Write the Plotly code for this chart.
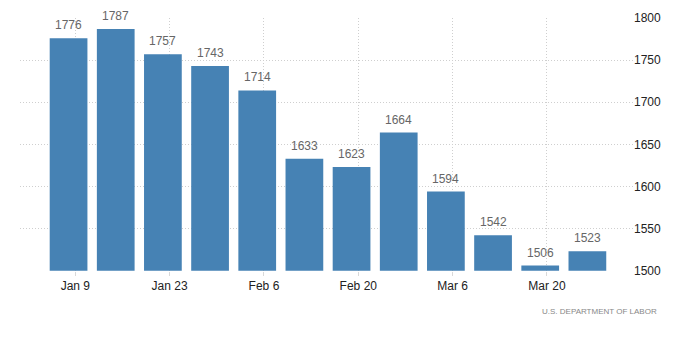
import plotly.graph_objects as go

dates = ["2019-01-08", "2019-01-15", "2019-01-22", "2019-01-29", "2019-02-05",
         "2019-02-12", "2019-02-19", "2019-02-26", "2019-03-05", "2019-03-12",
         "2019-03-19", "2019-03-26"]
values = [1776, 1787, 1757, 1743, 1714, 1633, 1623, 1664, 1594, 1542, 1506, 1523]
tick_dates = ["2019-01-09", "2019-01-23", "2019-02-06", "2019-02-20", "2019-03-06", "2019-03-20"]
tick_labels = ["Jan 9", "Jan 23", "Feb 6", "Feb 20", "Mar 6", "Mar 20"]
y_ticks = [1500, 1550, 1600, 1650, 1700, 1750, 1800]
source = "U.S. DEPARTMENT OF LABOR"

DAY = 86400000
fig = go.Figure(go.Bar(
    x=dates, y=[v - 1500 for v in values], base=1500,
    width=5.6 * DAY,
    marker=dict(color="#4682B4", line=dict(width=0)),
    cliponaxis=False,
))

label_annotations = [dict(
    x=d, y=v, xref="x", yref="y", text=str(v), showarrow=False,
    yanchor="bottom", yshift=4,
    font=dict(family="Liberation Sans, Arial", size=12, color="#666666"),
) for d, v in zip(dates, values)]

fig.update_layout(
    width=700, height=359,
    margin=dict(l=20, r=67, t=18, b=88),
    paper_bgcolor="white", plot_bgcolor="white",
    showlegend=False,
    font=dict(family="Liberation Sans, Arial", size=12, color="#333333"),
    xaxis=dict(
        type="date",
        range=["2018-12-31 19:00", "2019-04-01 18:30"],
        tickvals=tick_dates, ticktext=tick_labels,
        showgrid=True, gridcolor="#cfcfcf", griddash="1px,2px", gridwidth=1,
        ticks="outside", ticklen=4, tickcolor="#d9d9d9",
        showline=False, zeroline=False,
        tickfont=dict(size=12, color="#222222"),
    ),
    yaxis=dict(
        side="right", range=[1499.6, 1800],
        tickvals=y_ticks,
        showgrid=True, gridcolor="#cfcfcf", griddash="1px,2px", gridwidth=1,
        showline=False, zeroline=False, ticks="",
        tickfont=dict(size=12, color="#222222"),
    ),
    annotations=label_annotations + [dict(
        text=source, xref="paper", yref="paper", x=1.043, y=-0.16,
        xanchor="right", yanchor="middle", showarrow=False,
        font=dict(family="Liberation Sans, Arial", size=8, color="#888888"),
    )],
)

fig.write_html("out.html")
